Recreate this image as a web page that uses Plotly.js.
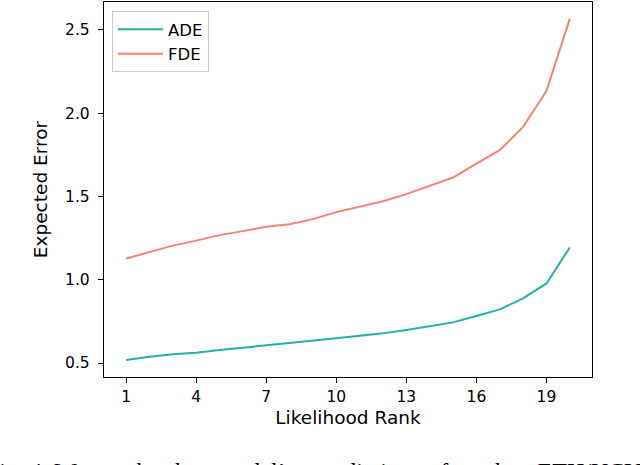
<!DOCTYPE html>
<html>
<head>
<meta charset="utf-8">
<script src="https://cdn.plot.ly/plotly-3.0.1.min.js"></script>
<style>html,body{margin:0;padding:0;background:#fff;overflow:hidden}#chart{width:640px;height:465px}</style>
</head>
<body>
<div id="chart"></div>
<script>
const ranks = [1,2,3,4,5,6,7,8,9,10,11,12,13,14,15,16,17,18,19,20];
const ade = [0.518,0.538,0.552,0.562,0.578,0.592,0.606,0.616,0.632,0.648,0.664,0.678,0.698,0.722,0.744,0.782,0.822,0.888,0.978,1.194];
const fde = [1.128,1.168,1.205,1.235,1.268,1.292,1.318,1.334,1.364,1.406,1.438,1.472,1.514,1.562,1.614,1.698,1.778,1.918,2.134,2.568];
const xTicks = [1,4,7,10,13,16,19];
const yTicks = [0.5,1.0,1.5,2.0,2.5];
const yTickText = ['0.5','1.0','1.5','2.0','2.5'];
const seriesNames = ['ADE','FDE'];
const gap = '\u2002\u2004';
const caption = ['Fig. 4: We', 'rank', 'the', 'model\u2019s', 'predictions', 'for', 'the', 'ETH/UCY'].join(gap);

const font = 'DejaVu Sans, sans-serif';
const traces = [
  {x: ranks, y: ade, name: seriesNames[0], mode: 'lines', line: {color: '#20b2aa', width: 2}},
  {x: ranks, y: fde, name: seriesNames[1], mode: 'lines', line: {color: '#fa8072', width: 2}}
];
const axisCommon = {
  showline: true, mirror: true, linecolor: '#000', linewidth: 1.2,
  ticks: 'outside', ticklen: 5, tickwidth: 1, tickcolor: '#000',
  showgrid: false, zeroline: false,
  tickfont: {family: font, size: 15.5, color: '#000'}
};
const layout = {
  width: 640, height: 465,
  margin: {l: 104, r: 48, t: 2, b: 88},
  paper_bgcolor: '#fff', plot_bgcolor: '#fff',
  font: {family: font, color: '#000'},
  showlegend: true,
  legend: {
    x: 0.0164, y: 0.976, xanchor: 'left', yanchor: 'top',
    bgcolor: 'rgba(255,255,255,0.8)', bordercolor: '#cccccc', borderwidth: 1,
    itemwidth: 45, tracegroupgap: 4,
    font: {family: font, size: 16.5, color: '#000'}
  },
  xaxis: Object.assign({}, axisCommon, {
    range: [0.05, 20.95], tickmode: 'array', tickvals: xTicks,
    title: {text: 'Likelihood Rank', font: {family: font, size: 18.5, color: '#000'}, standoff: 6}
  }),
  yaxis: Object.assign({}, axisCommon, {
    range: [0.416, 2.668], tickmode: 'array', tickvals: yTicks, ticktext: yTickText,
    ticklabelstandoff: 5,
    title: {text: 'Expected Error', font: {family: font, size: 18.5, color: '#000'}, standoff: 12}
  }),
  annotations: [{
    text: caption, xref: 'paper', yref: 'paper',
    x: -0.2459, y: -0.211, xanchor: 'left', yanchor: 'top', showarrow: false,
    font: {family: 'Liberation Serif, serif', size: 24, color: '#000'}
  }]
};
Plotly.newPlot('chart', traces, layout, {displayModeBar: false, staticPlot: true});
</script>
</body>
</html>
